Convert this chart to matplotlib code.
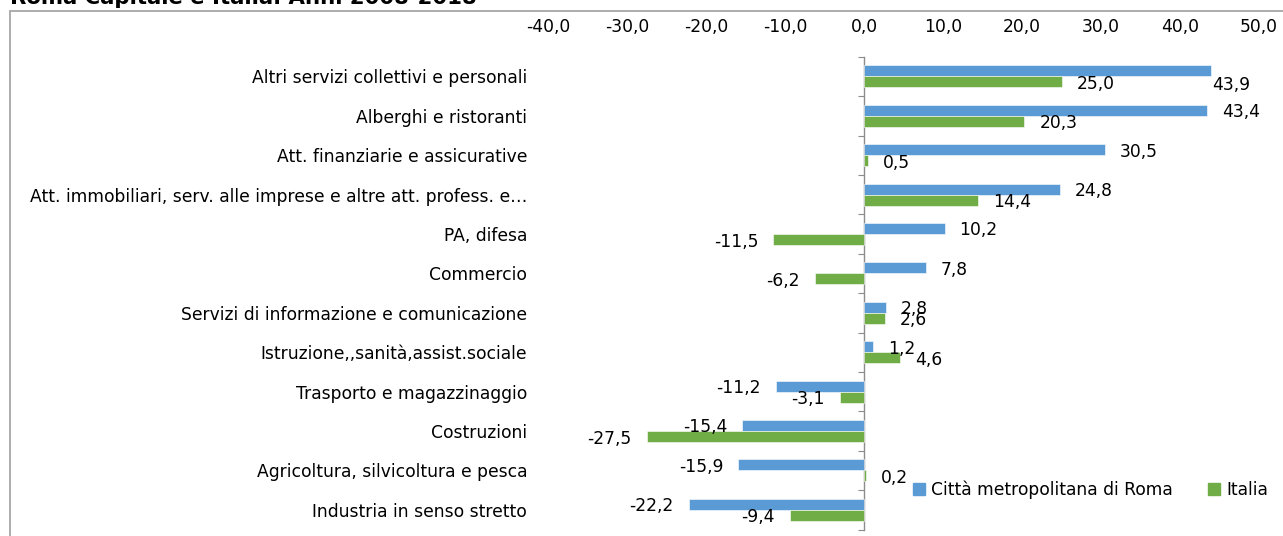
import numpy as np
import matplotlib
matplotlib.use("Agg")
import matplotlib.pyplot as plt
from matplotlib.patches import Patch, Rectangle

# Variazione % addetti per settore, Roma vs Italia
settori = [
    "Altri servizi collettivi e personali",
    "Alberghi e ristoranti",
    "Att. finanziarie e assicurative",
    "Att. immobiliari, serv. alle imprese e altre att. profess. e…",
    "PA, difesa",
    "Commercio",
    "Servizi di informazione e comunicazione",
    "Istruzione,,sanità,assist.sociale",
    "Trasporto e magazzinaggio",
    "Costruzioni",
    "Agricoltura, silvicoltura e pesca",
    "Industria in senso stretto",
]
roma = [43.9, 43.4, 30.5, 24.8, 10.2, 7.8, 2.8, 1.2, -11.2, -15.4, -15.9, -22.2]
italia = [25.0, 20.3, 0.5, 14.4, -11.5, -6.2, 2.6, 4.6, -3.1, -27.5, 0.2, -9.4]
x_ticks = [-40, -30, -20, -10, 0, 10, 20, 30, 40, 50]

titolo = "Roma Capitale e Italia. Anni 2008-2018"
serie_nomi = ["Città metropolitana di Roma", "Italia"]
colori = ["#5B9BD5", "#70AD47"]

plt.rcParams["font.family"] = ["DejaVu Sans"]
FS = 12.3


def fmt(v):
    return f"{v:.1f}".replace(".", ",")


fig = plt.figure(figsize=(12.83, 5.36), dpi=100)
ax = fig.add_axes([548 / 1283, 1 - 529.5 / 536, 711 / 1283, (529.5 - 56.7) / 536])

y = np.arange(len(settori))
h = 0.28
ax.barh(y - h / 2, roma, height=h, color=colori[0], edgecolor="white", linewidth=0.4)
ax.barh(y + h / 2, italia, height=h, color=colori[1], edgecolor="white", linewidth=0.4)

# etichette di valore; una spostata per non uscire dal riquadro
spostamenti = {(0, 0): (1, -14)}
for s, valori in enumerate([roma, italia]):
    for i, v in enumerate(valori):
        dx = 15 if v >= 0 else -15
        off = spostamenti.get((s, i), (dx, -2))
        ax.annotate(fmt(v), xy=(v, y[i] + (-h / 2 if s == 0 else h / 2)),
                    xytext=off, textcoords="offset pixels",
                    ha="left" if v >= 0 else "right", va="center", fontsize=FS)

ax.set_xlim(-40, 50)
ax.set_ylim(len(settori) - 0.5, -0.5)
ax.set_xticks(x_ticks)
ax.set_xticklabels([fmt(t) for t in x_ticks])
ax.xaxis.tick_top()
ax.tick_params(axis="x", length=0, pad=15, labelsize=FS)
ax.set_yticks(y)
ax.set_yticklabels(settori)
ax.tick_params(axis="y", length=0, pad=15, labelsize=FS)
for sp in ax.spines.values():
    sp.set_visible(False)

# asse verticale sullo zero con tacche tra le categorie
asse0 = ax.secondary_yaxis(40 / 90)
asse0.spines["left"].set_color("#8c8c8c")
asse0.spines["left"].set_linewidth(1.0)
asse0.set_yticks(np.arange(-0.5, len(settori)))
asse0.tick_params(axis="y", direction="out", length=4.5, color="#8c8c8c", labelleft=False)

fig.legend(handles=[Patch(color=c) for c in colori], labels=serie_nomi,
           loc="center left", bbox_to_anchor=(906 / 1283, 1 - 490 / 536), ncol=2,
           frameon=False, fontsize=FS, handlelength=0.7, handleheight=0.7,
           handletextpad=0.35, columnspacing=2.1, borderaxespad=0)

fig.text(10 / 1283, 1 - 4.5 / 536, titolo, fontsize=15.3, fontweight="bold", va="baseline")

fig.add_artist(Rectangle((10 / 1283, -0.1), 1.2, 0.1 + (536 - 11) / 536,
                         transform=fig.transFigure, fill=False,
                         edgecolor="#a6a6a6", linewidth=1.3))

fig.savefig("out.png", dpi=100)
